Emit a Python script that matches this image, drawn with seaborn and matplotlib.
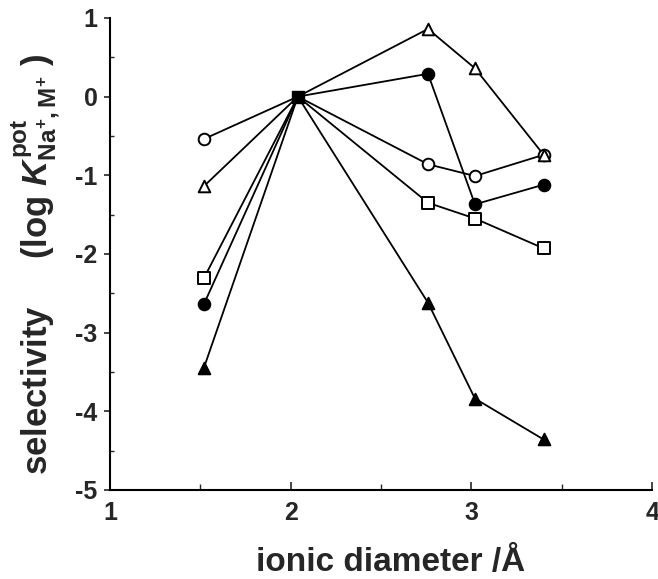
import numpy as np
import pandas as pd
import matplotlib
matplotlib.use("Agg")
import matplotlib.pyplot as plt
import seaborn as sns

# ionic diameters (Li+, Na+, K+, Rb+, Cs+)
diam = [1.52, 2.04, 2.76, 3.02, 3.40]

# log K(pot) Na+,M+ for each ionophore series
open_circle = [-0.54, 0.0, -0.86, -1.01, -0.74]
open_triangle = [-1.14, 0.0, 0.86, 0.36, -0.74]
filled_circle = [-2.64, 0.0, 0.29, -1.37, -1.12]
open_square = [-2.31, 0.0, -1.35, -1.55, -1.93]
filled_triangle = [-3.45, 0.0, -2.62, -3.84, -4.36]

series = {
    "open_circle": open_circle,
    "open_triangle": open_triangle,
    "filled_circle": filled_circle,
    "open_square": open_square,
    "filled_triangle": filled_triangle,
}
styles = {
    "open_circle": ("o", "white"),
    "open_triangle": ("^", "white"),
    "filled_circle": ("o", "black"),
    "open_square": ("s", "white"),
    "filled_triangle": ("^", "black"),
}

rows = []
for name, vals in series.items():
    for d, v in zip(diam, vals):
        rows.append((name, d, v))
df = pd.DataFrame(rows, columns=["series", "diameter", "logK"])

sns.set_style("ticks")
plt.rcParams["font.family"] = ["Liberation Sans", "DejaVu Sans"]
plt.rcParams["font.weight"] = "bold"
plt.rcParams["axes.unicode_minus"] = False
plt.rcParams["mathtext.fontset"] = "custom"
plt.rcParams["mathtext.rm"] = "Liberation Sans:bold"
plt.rcParams["mathtext.it"] = "Liberation Sans:italic:bold"
plt.rcParams["mathtext.bf"] = "Liberation Sans:bold"

fig = plt.figure(figsize=(6.58, 5.79), dpi=100)
ax = fig.add_axes([0.167, 0.154, 0.824, 0.815])

for name, vals in series.items():
    sub = df[df["series"] == name]
    sns.lineplot(data=sub, x="diameter", y="logK", ax=ax, color="black",
                 linewidth=1.3, sort=False, estimator=None)
for name, vals in series.items():
    sub = df[(df["series"] == name) & (df["diameter"] != diam[1])]
    m, fc = styles[name]
    ax.scatter(sub["diameter"], sub["logK"], marker=m, s=70, facecolor=fc,
               edgecolor="black", linewidth=1.4, zorder=3)
# Na+ reference point (all series coincide)
ax.scatter([diam[1]], [open_circle[1]], marker="s", s=70, color="black", zorder=4)

ax.set_xlim(1, 4)
ax.set_ylim(-5, 1)
ax.set_xticks([1, 2, 3, 4])
ax.set_xticks([1.5, 2.5, 3.5], minor=True)
ax.set_yticks([-5, -4, -3, -2, -1, 0, 1])
ax.set_yticks(np.arange(-4.5, 1, 1.0), minor=True)
ax.tick_params(axis="x", direction="in", length=6, width=1.2, pad=8, labelsize=18)
ax.tick_params(axis="x", which="minor", direction="in", length=4, width=1)
ax.tick_params(axis="y", direction="out", length=4, width=1.2, pad=5, labelsize=18)
ax.tick_params(axis="y", which="minor", direction="in", length=3, width=1)
for lab in ax.get_xticklabels() + ax.get_yticklabels():
    lab.set_fontweight("bold")
sns.despine(ax=ax)
for s in ["left", "bottom"]:
    ax.spines[s].set_linewidth(1.5)
    ax.spines[s].set_color("black")

ax.set_xlabel("ionic diameter /Å", fontsize=24, fontweight="bold")
ax.set_ylabel(r"selectivity     (log $K^{\mathrm{pot}}_{\mathrm{Na^{+},M^{+}}}$ )",
              fontsize=25, fontweight="bold")
ax.xaxis.set_label_coords(0.518, -0.122)
ax.yaxis.set_label_coords(-0.088, 0.478)

plt.savefig("out.png", dpi=100)
